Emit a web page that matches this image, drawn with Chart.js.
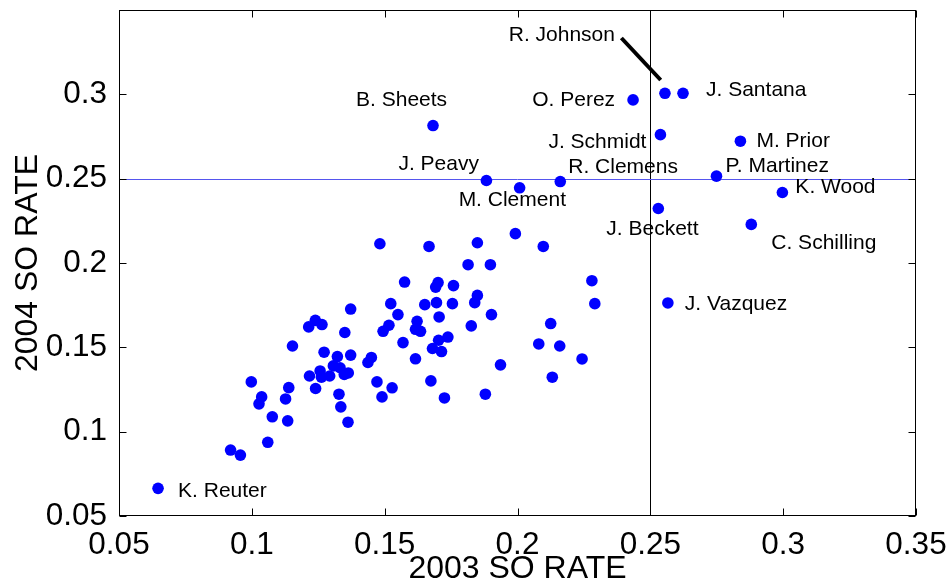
<!DOCTYPE html>
<html>
<head>
<meta charset="utf-8">
<script src="https://cdn.jsdelivr.net/npm/chart.js@4"></script>
<style>
  html, body { margin: 0; padding: 0; background: #fff; }
</style>
</head>
<body>
<canvas id="chart" width="952" height="583"></canvas>
<script>
// 2003 vs 2004 strikeout rate, unlabeled pitchers
const so2003 = [
  0.1482, 0.1667, 0.1849, 0.1992, 0.2097, 0.1814, 0.1898, 0.1575, 0.1701, 0.1692,
  0.1759, 0.2280, 0.1523, 0.1372, 0.1651, 0.1695, 0.1755, 0.1849, 0.1839, 0.2291,
  0.1550, 0.1705, 0.1902, 0.1239, 0.1264, 0.1214, 0.1516, 0.1494, 0.1622, 0.1616,
  0.1635, 0.1350, 0.1826, 0.2125, 0.1738, 0.1703, 0.1569, 0.2080, 0.2159, 0.1153,
  0.1680, 0.1714, 0.1272, 0.1322, 0.1372, 0.1450, 0.1437, 0.1616, 0.2243, 0.1936,
  0.1217, 0.1257, 0.1262, 0.1293, 0.1307, 0.1332, 0.1348, 0.1363, 0.2131, 0.1240,
  0.1328, 0.1335, 0.1362, 0.1471, 0.1528, 0.1490, 0.1674, 0.1725, 0.1879, 0.0998,
  0.1037, 0.1027, 0.1139, 0.1127, 0.1077, 0.1135, 0.1060, 0.0920, 0.0957
];
const so2004 = [
  0.2114, 0.2098, 0.2120, 0.2174, 0.2098, 0.1990, 0.1990, 0.1887, 0.1884, 0.1857,
  0.1866, 0.1895, 0.1759, 0.1727, 0.1753, 0.1765, 0.1759, 0.1808, 0.1765, 0.1759,
  0.1694, 0.1680, 0.1694, 0.1660, 0.1635, 0.1621, 0.1631, 0.1595, 0.1654, 0.1607,
  0.1595, 0.1588, 0.1627, 0.1641, 0.1561, 0.1542, 0.1528, 0.1520, 0.1508, 0.1508,
  0.1493, 0.1475, 0.1471, 0.1445, 0.1454, 0.1440, 0.1410, 0.1432, 0.1431, 0.1396,
  0.1330, 0.1360, 0.1323, 0.1330, 0.1390, 0.1379, 0.1339, 0.1348, 0.1323, 0.1256,
  0.1222, 0.1147, 0.1056, 0.1295, 0.1260, 0.1206, 0.1301, 0.1200, 0.1222, 0.1295,
  0.1206, 0.1165, 0.1261, 0.1194, 0.1088, 0.1064, 0.0937, 0.0891, 0.0861
];

// named pitchers
const names = [
  'B. Sheets', 'J. Peavy', 'M. Clement', 'R. Clemens', 'O. Perez', 'R. Johnson',
  'J. Santana', 'J. Schmidt', 'M. Prior', 'P. Martinez', 'K. Wood', 'J. Beckett',
  'C. Schilling', 'J. Vazquez', 'K. Reuter'
];
const named2003 = [
  0.1682, 0.1883, 0.2008, 0.2161, 0.2435, 0.2555,
  0.2623, 0.2538, 0.2839, 0.2749, 0.2997, 0.2530,
  0.2880, 0.2566, 0.0647
];
const named2004 = [
  0.2815, 0.2489, 0.2446, 0.2483, 0.2967, 0.3006,
  0.3006, 0.2761, 0.2722, 0.2515, 0.2418, 0.2323,
  0.2229, 0.1763, 0.0664
];

// leader line for R. Johnson
const leader2003 = [0.2391, 0.2539];
const leader2004 = [0.3334, 0.3085];

const xTicks = [0.05, 0.1, 0.15, 0.2, 0.25, 0.3, 0.35];
const yTicks = [0.05, 0.1, 0.15, 0.2, 0.25, 0.3];
const refX = 0.25;
const refY = 0.25;

// label placement relative to the dot: [dx, dy, align]
const labelOffsets = [
  [-77, -25, 'left'], [-88, -16, 'left'], [-61, 12, 'left'], [8, -14, 'left'],
  [-18, 0, 'right'], [-50, -58, 'right'], [23, -3, 'left'], [-14, 8, 'right'],
  [16, 0, 'left'], [9, -10, 'left'], [13, -5, 'left'], [-52, 21, 'left'],
  [20, 19, 'left'], [17, 1, 'left'], [20, 3, 'left']
];

const fontFamily = '"Liberation Sans", Arial, Helvetica, sans-serif';

const points = so2003.map((v, i) => ({x: v, y: so2004[i]}))
  .concat(named2003.map((v, i) => ({x: v, y: named2004[i]})));
const leader = leader2003.map((v, i) => ({x: v, y: leader2004[i]}));

const frame = {
  id: 'frame',
  beforeDatasetsDraw(chart) {
    const {ctx, chartArea: a, scales: {x, y}} = chart;
    const L = Math.round(a.left) + 0.5, R = Math.round(a.right) - 0.5;
    const T = Math.round(a.top) + 0.5, B = Math.round(a.bottom) - 0.5;
    ctx.save();
    ctx.lineWidth = 1;

    const rx = Math.round(x.getPixelForValue(refX)) + 0.5;
    const ry = Math.round(y.getPixelForValue(refY)) + 0.5;
    ctx.strokeStyle = '#000';
    ctx.beginPath(); ctx.moveTo(rx, T); ctx.lineTo(rx, B); ctx.stroke();
    ctx.strokeStyle = '#5555ee';
    ctx.beginPath(); ctx.moveTo(L, ry); ctx.lineTo(R, ry); ctx.stroke();

    ctx.strokeStyle = '#000';
    ctx.strokeRect(L, T, R - L, B - T);
    const tl = 7;
    ctx.beginPath();
    xTicks.forEach(v => {
      const px = Math.round(x.getPixelForValue(v)) + 0.5;
      ctx.moveTo(px, B); ctx.lineTo(px, B - tl);
      ctx.moveTo(px, T); ctx.lineTo(px, T + tl);
    });
    yTicks.forEach(v => {
      const py = Math.round(y.getPixelForValue(v)) + 0.5;
      ctx.moveTo(L, py); ctx.lineTo(L + tl, py);
      ctx.moveTo(R, py); ctx.lineTo(R - tl, py);
    });
    ctx.stroke();
    ctx.restore();
  },
  afterDatasetsDraw(chart) {
    const {ctx, scales: {x, y}} = chart;
    ctx.save();
    ctx.font = '21px ' + fontFamily;
    ctx.fillStyle = '#000';
    ctx.textBaseline = 'middle';
    names.forEach((name, i) => {
      const [dx, dy, align] = labelOffsets[i];
      ctx.textAlign = align;
      ctx.fillText(name, x.getPixelForValue(named2003[i]) + dx, y.getPixelForValue(named2004[i]) + dy);
    });
    ctx.restore();
  }
};

const fmt = v => String(+v.toFixed(2));

new Chart(document.getElementById('chart'), {
  type: 'scatter',
  data: {
    datasets: [
      {
        data: points,
        backgroundColor: '#0000ff',
        borderWidth: 0,
        pointRadius: 5.8,
        pointHoverRadius: 5.8
      },
      {
        data: leader,
        showLine: true,
        borderColor: '#000',
        borderWidth: 4,
        pointRadius: 0,
        pointHoverRadius: 0
      }
    ]
  },
  options: {
    responsive: false,
    animation: false,
    events: [],
    layout: { padding: { left: 0, right: 36, top: 10, bottom: 0 } },
    plugins: {
      legend: { display: false },
      tooltip: { enabled: false }
    },
    scales: {
      x: {
        type: 'linear',
        min: 0.05,
        max: 0.35,
        afterBuildTicks: s => { s.ticks = xTicks.map(v => ({value: v})); },
        afterFit: s => { s.height = 67; s.paddingLeft = 0; s.paddingRight = 0; },
        grid: { display: false },
        border: { display: false },
        ticks: {
          color: '#000',
          padding: 6,
          maxRotation: 0,
          autoSkip: false,
          font: { family: fontFamily, size: 31.5, lineHeight: 1 },
          callback: v => fmt(v)
        },
        title: {
          display: true,
          text: '2003 SO RATE',
          color: '#000',
          padding: { top: 0, bottom: -2 },
          font: { family: fontFamily, size: 32, lineHeight: 1 }
        }
      },
      y: {
        type: 'linear',
        min: 0.05,
        max: 0.35,
        afterBuildTicks: s => { s.ticks = yTicks.map(v => ({value: v})); },
        afterFit: s => { s.width = 119; s.paddingTop = 0; s.paddingBottom = 0; },
        grid: { display: false },
        border: { display: false },
        ticks: {
          color: '#000',
          padding: 4,
          autoSkip: false,
          font: { family: fontFamily, size: 31.5, lineHeight: 1 },
          callback: v => fmt(v)
        },
        title: {
          display: true,
          text: '2004 SO RATE',
          color: '#000',
          padding: { top: 12, bottom: 0 },
          font: { family: fontFamily, size: 32, lineHeight: 1 }
        }
      }
    }
  },
  plugins: [frame]
});
</script>
</body>
</html>
